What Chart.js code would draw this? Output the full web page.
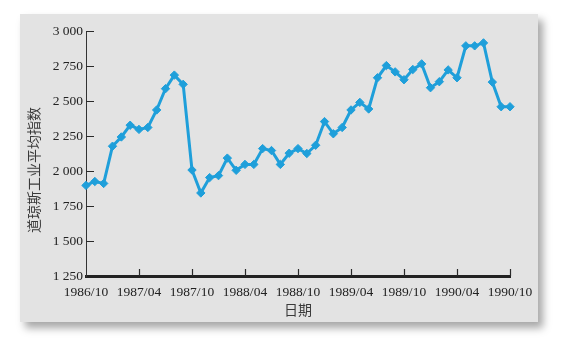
<!DOCTYPE html>
<html>
<head>
<meta charset="utf-8">
<script src="https://cdn.jsdelivr.net/npm/chart.js@4/dist/chart.umd.min.js"></script>
<style>
  html, body { margin: 0; padding: 0; background: #ffffff; }
  #wrap { position: relative; width: 566px; height: 347px; overflow: hidden; }
  #panel { position: absolute; left: 20px; top: 14px; width: 518px; height: 308px;
           background: #e3e3e3; box-shadow: 5px 6px 8px rgba(0,0,0,0.35); }
  #c { position: absolute; left: 0; top: 0; }
</style>
</head>
<body>
<div id="wrap">
  <div id="panel"></div>
  <canvas id="c" width="566" height="347"></canvas>
</div>
<script>
// Months (categories)
const months = [
  '1986/10','1986/11','1986/12',
  '1987/01','1987/02','1987/03','1987/04','1987/05','1987/06','1987/07','1987/08','1987/09','1987/10','1987/11','1987/12',
  '1988/01','1988/02','1988/03','1988/04','1988/05','1988/06','1988/07','1988/08','1988/09','1988/10','1988/11','1988/12',
  '1989/01','1989/02','1989/03','1989/04','1989/05','1989/06','1989/07','1989/08','1989/09','1989/10','1989/11','1989/12',
  '1990/01','1990/02','1990/03','1990/04','1990/05','1990/06','1990/07','1990/08','1990/09','1990/10'
];
// Dow Jones Industrial Average
const djia = [
  1897, 1925, 1911,
  2177, 2243, 2327, 2297, 2311, 2436, 2588, 2685, 2619, 2007, 1843, 1953,
  1967, 2092, 2005, 2047, 2047, 2160, 2146, 2047, 2127, 2160, 2125, 2184,
  2353, 2266, 2311, 2436, 2490, 2443, 2666, 2753, 2708, 2652, 2725, 2765,
  2595, 2638, 2722, 2666, 2894, 2894, 2915, 2635, 2459, 2459
];
// Tick labels shown on the x axis
const xTickLabels = ['1986/10','1987/04','1987/10','1988/04','1988/10','1989/04','1989/10','1990/04','1990/10'];
const yTicks = [1250, 1500, 1750, 2000, 2250, 2500, 2750, 3000];
const yTitle = '道琼斯工业平均指数';
const xTitle = '日期';

const serif = '"Liberation Serif", "Times New Roman", serif';
const cjk = '"Noto Sans CJK SC", sans-serif';

const tickMarks = {
  id: 'tickMarks',
  afterDraw(chart) {
    const ctx = chart.ctx;
    const xs = chart.scales.x, ys = chart.scales.y;
    const area = chart.chartArea;
    ctx.save();
    ctx.strokeStyle = '#2a2a2a';
    ctx.lineWidth = 1.2;
    // x ticks (upward, inside)
    months.forEach((m, i) => {
      if (xTickLabels.indexOf(m) < 0 || i === 0) return;
      const px = Math.round(xs.getPixelForValue(i)) + 0.5;
      ctx.beginPath();
      ctx.moveTo(px, area.bottom);
      ctx.lineTo(px, area.bottom - 7);
      ctx.stroke();
    });
    // y ticks (rightward, inside)
    ctx.lineWidth = 1;
    yTicks.forEach(v => {
      if (v === 1250) return;
      const py = Math.round(ys.getPixelForValue(v)) + 0.5;
      ctx.beginPath();
      ctx.moveTo(area.left, py);
      ctx.lineTo(area.left + 8, py);
      ctx.stroke();
    });
    // y title
    ctx.fillStyle = '#3a3a3a';
    ctx.font = '14px ' + cjk;
    ctx.textAlign = 'center';
    ctx.textBaseline = 'middle';
    ctx.translate(34, 170);
    ctx.rotate(-Math.PI / 2);
    ctx.fillText(yTitle, 0, 0);
    ctx.restore();
  }
};

new Chart(document.getElementById('c'), {
  type: 'line',
  data: {
    labels: months,
    datasets: [{
      data: djia,
      borderColor: '#1f9fda',
      backgroundColor: '#1f9fda',
      borderWidth: 3,
      pointStyle: 'rectRot',
      pointRadius: 4.2,
      pointBorderWidth: 1,
      pointBackgroundColor: '#1f9fda',
      pointBorderColor: '#1f9fda',
      tension: 0,
      fill: false
    }]
  },
  options: {
    responsive: false,
    animation: false,
    devicePixelRatio: 1,
    layout: { padding: { left: 0, right: 56, top: 31, bottom: 26 } },
    plugins: { legend: { display: false }, tooltip: { enabled: false } },
    scales: {
      x: {
        type: 'category',
        offset: false,
        grid: { display: true, drawOnChartArea: false, drawTicks: false },
        border: { display: true, color: '#222', width: 3 },
        ticks: {
          autoSkip: false,
          maxRotation: 0,
          padding: 8,
          color: '#222',
          font: { family: serif, size: 13.5 },
          callback: function(val, i) {
            const m = months[i];
            return xTickLabels.indexOf(m) >= 0 ? m : '';
          }
        },
        title: {
          display: true,
          text: xTitle,
          color: '#3a3a3a',
          font: { family: cjk, size: 14 },
          padding: { top: 0, bottom: 3 }
        },
        afterFit(scale) { scale.height = 45; }
      },
      y: {
        min: 1250,
        max: 3000,
        grid: { display: true, drawOnChartArea: false, drawTicks: false },
        border: { display: true, color: '#333', width: 1 },
        ticks: {
          stepSize: 250,
          padding: 3,
          color: '#222',
          font: { family: serif, size: 13.5 },
          callback: v => String(v).replace(/\B(?=(\d{3})+(?!\d))/g, ' ')
        },
        afterFit(scale) { scale.width = 86; }
      }
    }
  },
  plugins: [tickMarks]
});
</script>
</body>
</html>
